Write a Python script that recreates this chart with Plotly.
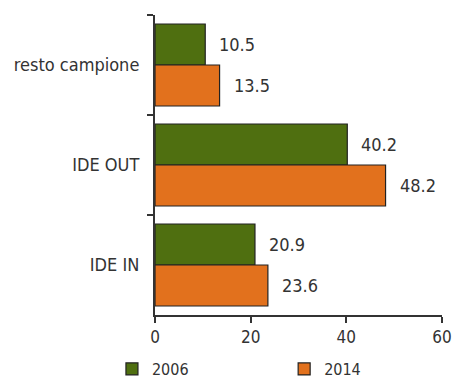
import plotly.graph_objects as go

categories = ["resto campione", "IDE OUT", "IDE IN"]
values_2006 = [10.5, 40.2, 20.9]
values_2014 = [13.5, 48.2, 23.6]
series_names = ["2006", "2014"]
x_ticks = [0, 20, 40, 60]

green = "#4f6f10"
orange = "#e2711d"
edge = "#222222"
text_color = "#333333"
font_family = "Liberation Sans Narrow, DejaVu Sans Condensed, Open Sans, sans-serif"

fig = go.Figure()
for name, vals, color, leg in [(series_names[0], values_2006, green, "legend"),
                               (series_names[1], values_2014, orange, "legend2")]:
    fig.add_trace(go.Bar(
        name=name, y=categories, x=vals, orientation="h",
        marker=dict(color=color, line=dict(color=edge, width=1.2)),
        legend=leg,
    ))

# value labels to the right of each bar
for offset, vals in [(-0.205, values_2006), (0.205, values_2014)]:
    for i, v in enumerate(vals):
        fig.add_annotation(
            x=v, y=i + offset, xref="x", yref="y",
            text=f"{v:.1f}", showarrow=False,
            xanchor="left", xshift=12,
            font=dict(size=18, color=text_color, family=font_family),
        )

legend_style = dict(
    orientation="h", y=-0.18, yanchor="middle",
    font=dict(size=16, color=text_color, family=font_family),
    bgcolor="rgba(0,0,0,0)",
)
fig.update_layout(
    width=452, height=378,
    margin=dict(l=155, r=10, t=15, b=63, autoexpand=False),
    paper_bgcolor="white", plot_bgcolor="white",
    barmode="group", bargap=0.18, bargroupgap=0,
    font=dict(family=font_family, size=18, color=text_color),
    showlegend=True,
    legend=dict(x=-0.15, xanchor="left", **legend_style),
    legend2=dict(x=0.45, xanchor="left", **legend_style),
)
fig.update_xaxes(
    range=[0, 60], tickvals=x_ticks, showgrid=False, zeroline=False,
    showline=True, linecolor="#333333", linewidth=1.5,
    ticks="outside", ticklen=6, tickcolor="#333333", tickwidth=1.5,
    tickfont=dict(size=17), ticklabeloverflow="allow",
)
fig.update_yaxes(
    categoryorder="array", categoryarray=categories, autorange="reversed",
    showgrid=False, showline=True, linecolor="#333333", linewidth=1.5,
    ticks="outside", ticklen=6, tickcolor="#333333", tickwidth=1.5,
    tickson="boundaries", ticksuffix="  ",
    tickfont=dict(size=18),
)

fig.write_html("out.html")
